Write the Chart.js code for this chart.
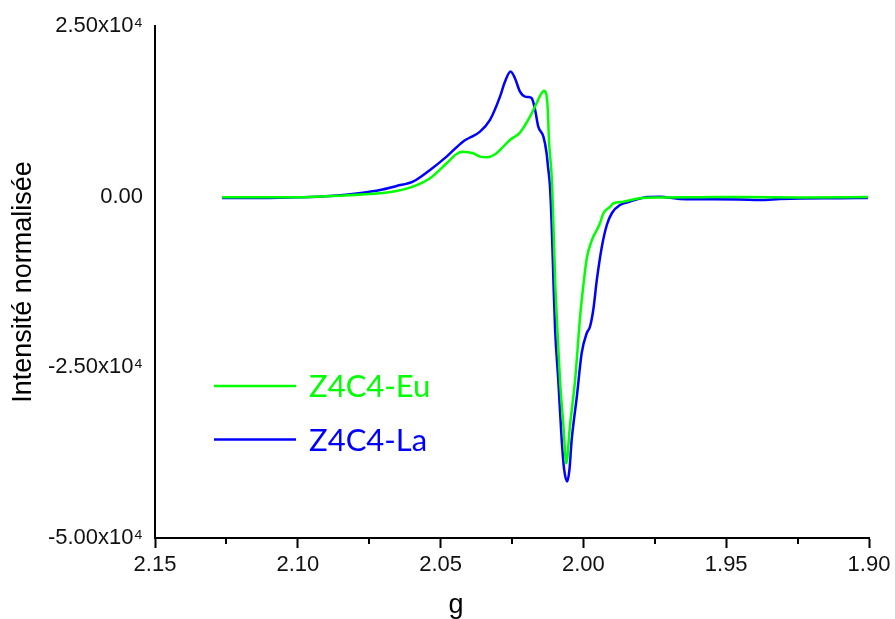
<!DOCTYPE html>
<html>
<head>
<meta charset="utf-8">
<script src="https://cdn.jsdelivr.net/npm/chart.js@4.4.1/dist/chart.umd.min.js"></script>
<style>
  html, body { margin: 0; padding: 0; background: #ffffff; }
  #wrap { width: 895px; height: 619px; position: relative; }
</style>
</head>
<body>
<div id="wrap"><canvas id="c" width="895" height="619"></canvas></div>
<script>
// ---- data ----
const seriesNames = ['Z4C4-Eu', 'Z4C4-La'];

const gEu = [2.1265, 2.0992, 2.0887, 2.0712, 2.0654, 2.0597, 2.0537, 2.0479, 2.0444, 2.0421,
             2.0386, 2.0362, 2.0339, 2.0310, 2.0292, 2.0257, 2.0222, 2.0187, 2.0164, 2.0148,
             2.0138, 2.0126, 2.0120, 2.0111, 2.0106, 2.0099, 2.0091, 2.0082, 2.0070, 2.0060,
             2.0047, 2.0029, 2.0011, 2.0000, 1.9988, 1.9970, 1.9953, 1.9942, 1.9930, 1.9906,
             1.9895, 1.9860, 1.9802, 1.9732, 1.9592, 1.9452, 1.9242, 1.9004];
const intEu = [-90, -90, 100, 500, 835, 1465, 2700, 4890, 6260, 6590,
               6360, 5860, 5770, 6180, 6840, 8310, 9380, 11720, 13680, 15050,
               15530, 13680, 7820, 2930, -2680, -12200, -19530, -26850, -33530, -39060,
               -33530, -26850, -17330, -12940, -8980, -6340, -4880, -3900, -2430, -1465,
               -970, -730, -230, -120, -90, -40, -120, -40];

const gLa = [2.1265, 2.1132, 2.0992, 2.0887, 2.0772, 2.0712, 2.0654, 2.0597, 2.0537, 2.0479,
             2.0422, 2.0397, 2.0362, 2.0327, 2.0292, 2.0275, 2.0255, 2.0240, 2.0222, 2.0204,
             2.0193, 2.0181, 2.0169, 2.0158, 2.0140, 2.0129, 2.0124, 2.0117, 2.0111, 2.0105,
             2.0099, 2.0088, 2.0076, 2.0068, 2.0057, 2.0049, 2.0041, 2.0023, 2.0006, 1.9988,
             1.9977, 1.9965, 1.9953, 1.9936, 1.9918, 1.9900, 1.9872, 1.9837, 1.9802, 1.9777,
             1.9732, 1.9662, 1.9592, 1.9452, 1.9382, 1.9312, 1.9242, 1.9102, 1.9004];
const intLa = [-190, -190, -90, 100, 590, 980, 1570, 2200, 3910, 5860,
               8060, 8670, 9520, 11240, 14650, 16800, 18330, 17390, 15380, 14650,
               14600, 14420, 12700, 10260, 8790, 6400, 4400, 1470, -4150, -12200,
               -19530, -26850, -35640, -39750, -41720, -40040, -35640, -29300, -22900, -19970,
               -19050, -16450, -12200, -7470, -4150, -2390, -1220, -730, -260, -40,
               0, -340, -380, -410, -480, -340, -260, -230, -190];

const xTicks = [2.15, 2.10, 2.05, 2.00, 1.95, 1.90];
const xTickLabels = ['2.15', '2.10', '2.05', '2.00', '1.95', '1.90'];
const xMinorTicks = [2.125, 2.075, 2.025, 1.975, 1.925];
const yTicks = [-50000, -25000, 0, 25000];
const yTickLabels = ['-5.00x10\u2074', '-2.50x10\u2074', '0.00', '2.50x10\u2074'];

const xTitle = 'g';
const yTitle = 'Intensité normalisée';

// ---- styling ----
const colors = ['#00ff00', '#0000ff'];
const axisFont = 'Liberation Sans, Arial, sans-serif';

function pts(xs, ys) { return xs.map((x, i) => ({ x: x, y: ys[i] })); }

const minorTickPlugin = {
  id: 'minorTicks',
  afterDraw(chart) {
    const ctx = chart.ctx;
    const xs = chart.scales.x;
    const y0 = chart.chartArea.bottom;
    ctx.save();
    ctx.strokeStyle = '#000';
    ctx.lineWidth = 2;
    xMinorTicks.forEach(v => {
      const px = Math.round(xs.getPixelForValue(v));
      ctx.beginPath();
      ctx.moveTo(px, y0);
      ctx.lineTo(px, y0 + 6);
      ctx.stroke();
    });
    // x axis title
    ctx.fillStyle = '#000';
    ctx.font = '27px ' + axisFont;
    ctx.textAlign = 'center';
    ctx.textBaseline = 'alphabetic';
    ctx.fillText(xTitle, 456, 613);
    ctx.restore();
  }
};

const legendPlugin = {
  id: 'insideLegend',
  afterDraw(chart) {
    const ctx = chart.ctx;
    const rows = [386, 439.5];
    ctx.save();
    chart.data.datasets.forEach((ds, i) => {
      const y = rows[i];
      ctx.strokeStyle = ds.borderColor;
      ctx.lineWidth = 2.5;
      ctx.beginPath();
      ctx.moveTo(214, y);
      ctx.lineTo(296, y);
      ctx.stroke();
      ctx.fillStyle = ds.borderColor;
      ctx.font = '31px Lato, "Open Sans", sans-serif';
      ctx.textAlign = 'left';
      ctx.textBaseline = 'middle';
      ctx.fillText(ds.label, 309, y + 1);
    });
    ctx.restore();
  }
};

new Chart(document.getElementById('c'), {
  type: 'line',
  data: {
    datasets: [
      { label: seriesNames[0], data: pts(gEu, intEu), borderColor: colors[0], backgroundColor: colors[0],
        borderWidth: 2.5, pointRadius: 0, cubicInterpolationMode: 'monotone', fill: false },
      { label: seriesNames[1], data: pts(gLa, intLa), borderColor: colors[1], backgroundColor: colors[1],
        borderWidth: 2.5, pointRadius: 0, cubicInterpolationMode: 'monotone', fill: false }
    ]
  },
  options: {
    responsive: false,
    animation: false,
    devicePixelRatio: 1,
    layout: { padding: { top: 26, right: 26, left: 0, bottom: 0 } },
    plugins: { legend: { display: false }, tooltip: { enabled: false } },
    scales: {
      x: {
        type: 'linear',
        reverse: true,
        min: 1.90,
        max: 2.15,
        afterBuildTicks: (s) => { s.ticks = xTicks.map(v => ({ value: v })); },
        afterFit: (s) => { s.height = 81; },
        ticks: {
          callback: (v) => { const i = xTicks.findIndex(t => Math.abs(t - v) < 1e-9); return i >= 0 ? xTickLabels[i] : ''; },
          color: '#111',
          font: { family: axisFont, size: 22 },
          padding: 4,
          maxRotation: 0,
          autoSkip: false
        },
        grid: { display: true, drawOnChartArea: false, drawTicks: true, tickLength: 10, tickWidth: 2, tickColor: '#000' },
        border: { display: true, color: '#000', width: 2 }
      },
      y: {
        type: 'linear',
        min: -50000,
        max: 25000,
        afterBuildTicks: (s) => { s.ticks = yTicks.map(v => ({ value: v })); },
        afterFit: (s) => { s.width = 155; },
        ticks: {
          callback: (v) => { const i = yTicks.indexOf(v); return i >= 0 ? yTickLabels[i] : ''; },
          color: '#111',
          font: { family: axisFont, size: 22 },
          padding: 12,
          autoSkip: false
        },
        grid: { display: false, drawTicks: false },
        border: { display: true, color: '#000', width: 2 },
        title: { display: true, text: yTitle, color: '#000', font: { family: axisFont, size: 27 }, padding: { top: 7, bottom: 0 } }
      }
    }
  },
  plugins: [minorTickPlugin, legendPlugin]
});
</script>
</body>
</html>
